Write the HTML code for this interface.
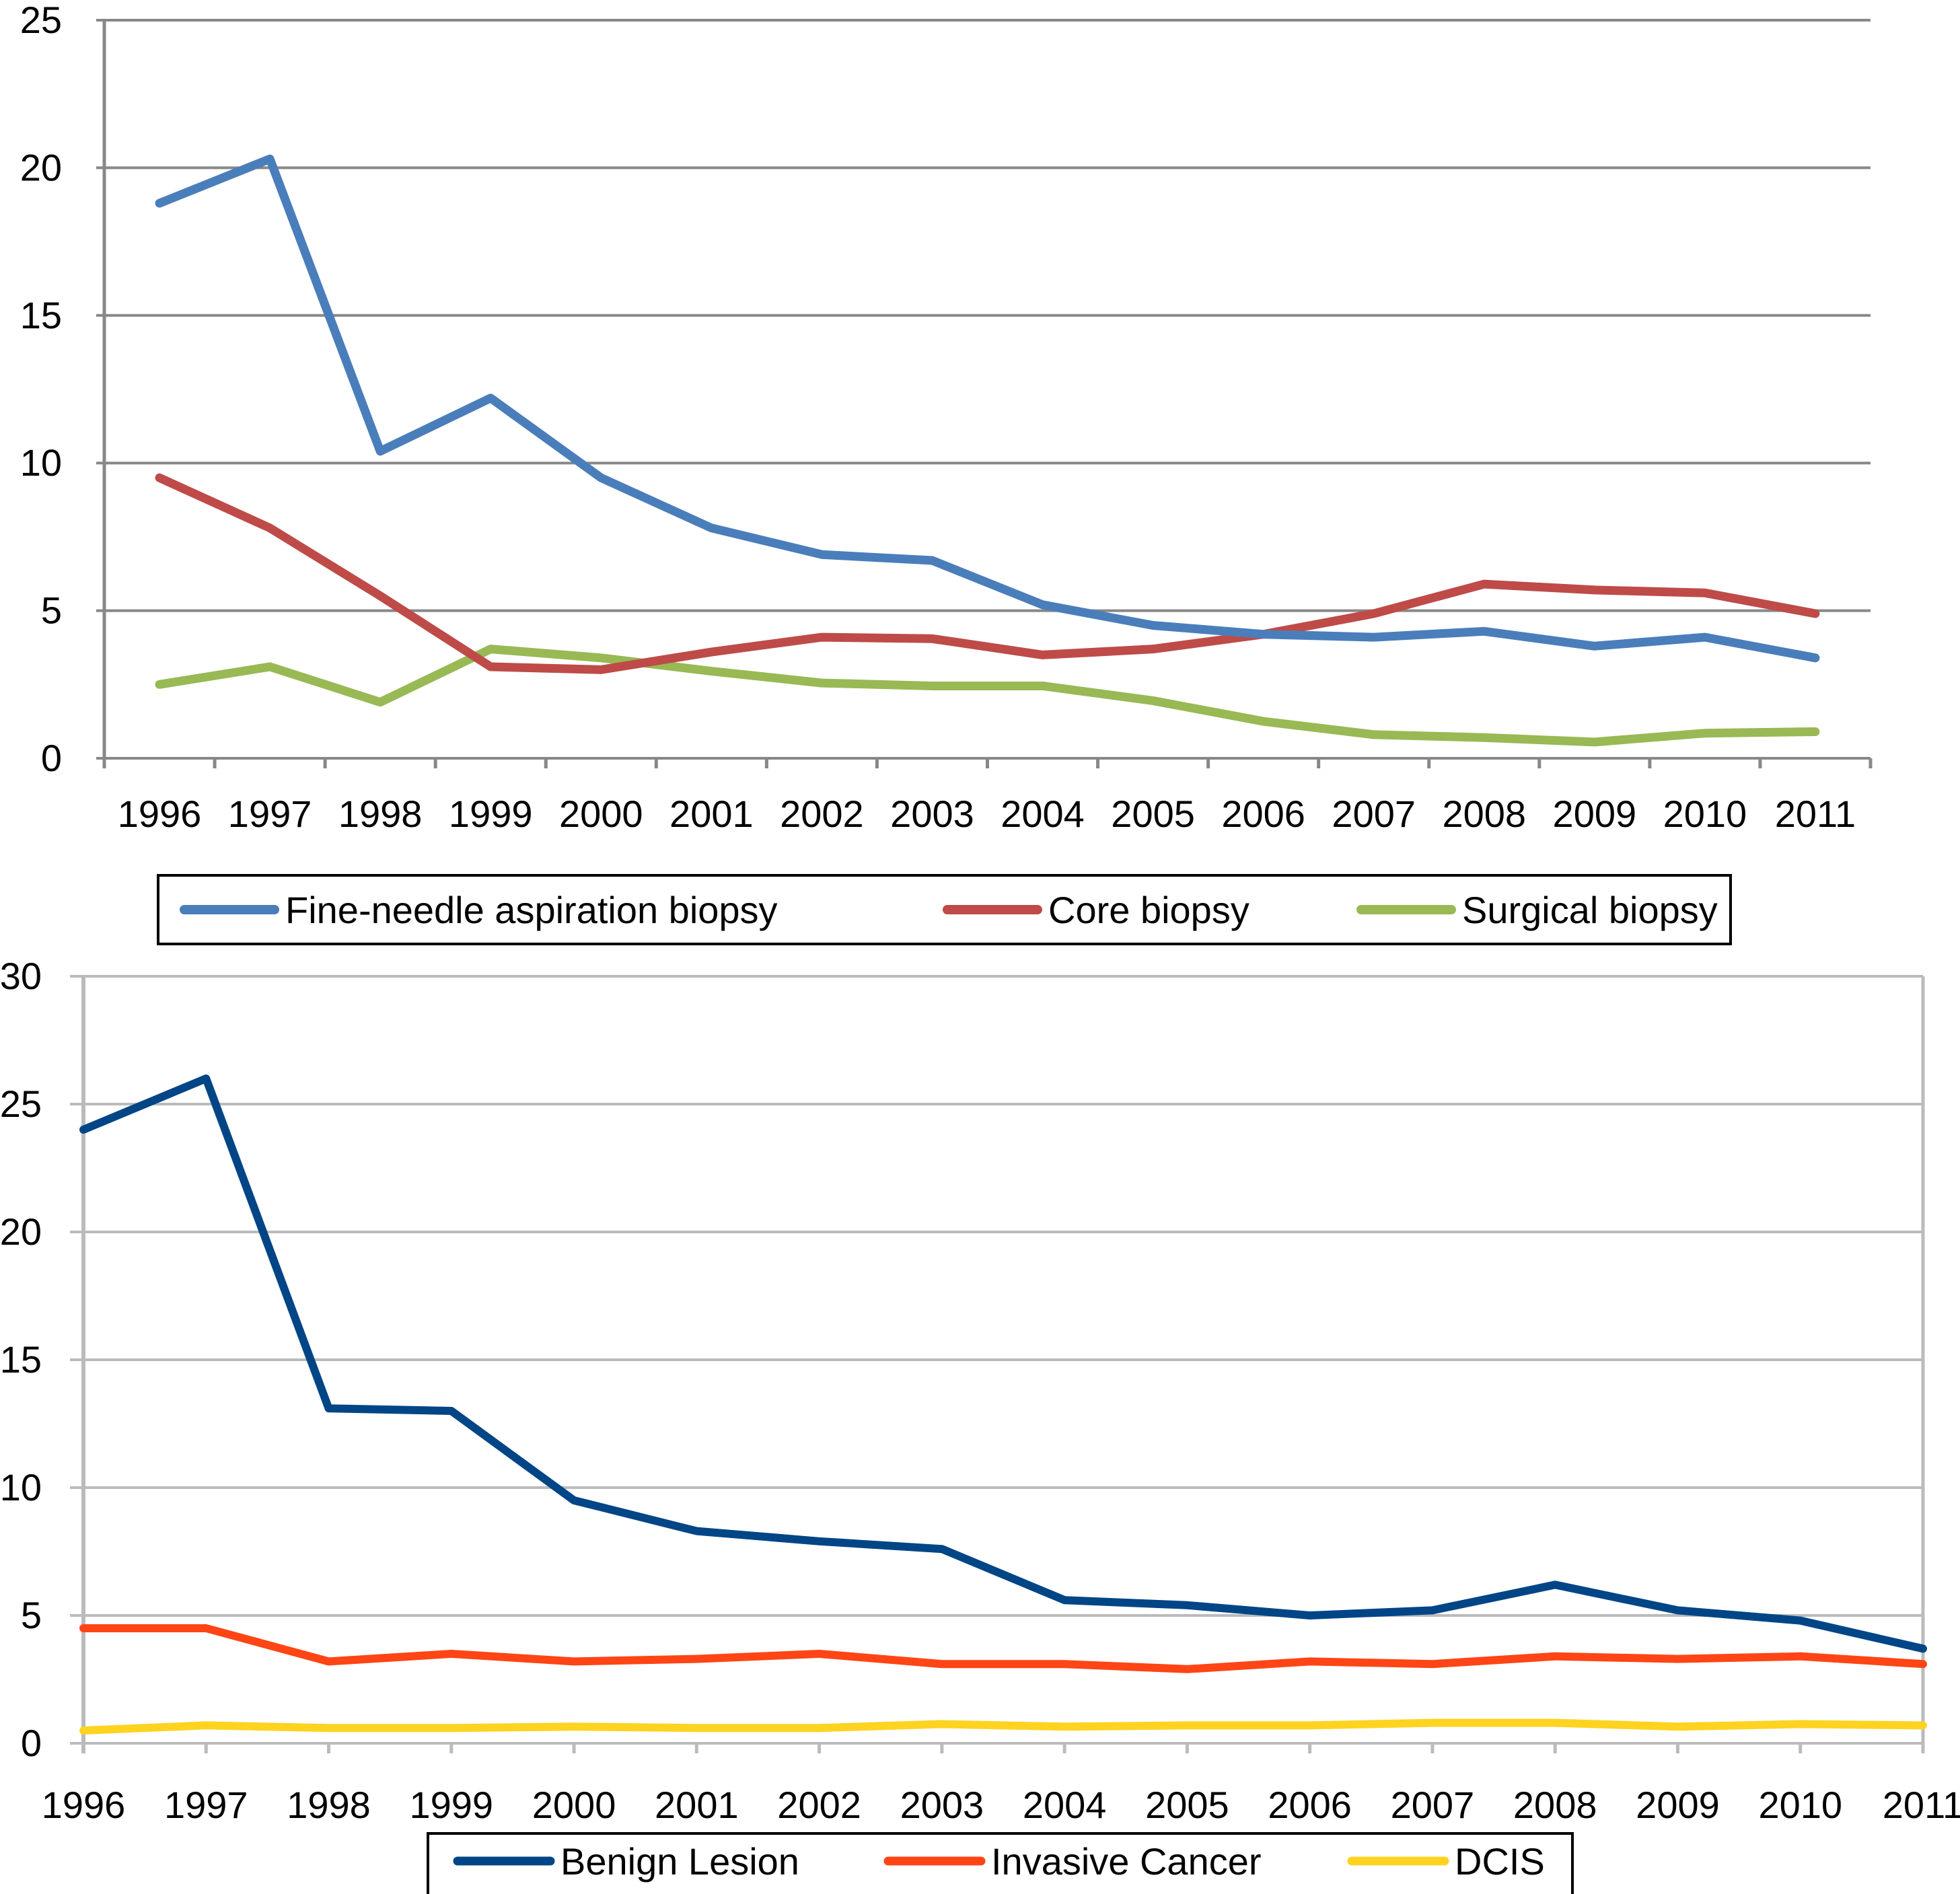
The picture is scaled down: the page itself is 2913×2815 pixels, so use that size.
<!DOCTYPE html>
<html><head><meta charset="utf-8"><style>
html,body{margin:0;padding:0;background:#fff;}
svg{display:block;font-family:"Liberation Sans",sans-serif;}
</style></head><body>
<svg id="c" width="2913" height="2815" viewBox="0 0 2913 2815"></svg>
<script>
const years = ["1996","1997","1998","1999","2000","2001","2002","2003","2004","2005","2006","2007","2008","2009","2010","2011"];
const fnaValues = [18.8,20.3,10.4,12.2,9.5,7.8,6.9,6.7,5.2,4.5,4.2,4.1,4.3,3.8,4.1,3.4];
const coreValues = [9.5,7.8,5.5,3.1,3.0,3.6,4.1,4.05,3.5,3.7,4.2,4.9,5.9,5.7,5.6,4.9];
const surgicalValues = [2.5,3.1,1.9,3.7,3.4,2.95,2.55,2.45,2.45,1.95,1.25,0.8,0.7,0.55,0.85,0.9];
const benignValues = [24,26,13.1,13,9.5,8.3,7.9,7.6,5.6,5.4,5.0,5.2,6.2,5.2,4.8,3.7];
const invasiveValues = [4.5,4.5,3.2,3.5,3.2,3.3,3.5,3.1,3.1,2.9,3.2,3.1,3.4,3.3,3.4,3.1];
const dcisValues = [0.5,0.7,0.6,0.6,0.65,0.6,0.6,0.75,0.65,0.7,0.7,0.8,0.8,0.65,0.75,0.7];
const topTicks = [0,5,10,15,20,25];
const bottomTicks = [0,5,10,15,20,25,30];

const NS="http://www.w3.org/2000/svg";
const svg=document.getElementById('c');
function mk(tag,attrs,parent,text){const e=document.createElementNS(NS,tag);for(const k in attrs)e.setAttribute(k,attrs[k]);if(text!==undefined)e.textContent=text;(parent||svg).appendChild(e);return e;}

// ---------- top chart ----------
const T={l:155,r:2780,t:30,b:1127,max:25};
const tx=i=>T.l+(T.r-T.l)/16*(i+0.5);
const ty=v=>T.b-(T.b-T.t)*v/T.max;
const gTop=mk('g',{});


topTicks.forEach(v=>{
  const l=mk('line',{x1:T.l-12,x2:T.r,y1:ty(v),y2:ty(v),stroke:'#888',"stroke-width":4},gTop);
  
  
  const t=mk('text',{x:92,y:ty(v)+19,"text-anchor":"end","font-size":56},gTop,String(v));
  
  
});
mk('line',{x1:T.l,x2:T.l,y1:T.t,y2:T.b+15,stroke:'#888',"stroke-width":5},gTop);
for(let i=0;i<=16;i++){
  const x=T.l+(T.r-T.l)/16*i;
  mk('line',{x1:x,x2:x,y1:T.b,y2:T.b+15,stroke:'#888',"stroke-width":5},gTop);
}
years.forEach((y,i)=>{
  const t=mk('text',{x:tx(i),y:1229,"text-anchor":"middle","font-size":56},gTop,y);
  
  
});
function series(vals,xf,yf,color,w,name,parent){
  const p=mk('polyline',{points:vals.map((v,i)=>xf(i)+','+yf(v)).join(' '),fill:'none',stroke:color,"stroke-width":w,"stroke-linejoin":"round","stroke-linecap":"round"},parent);
  
  
}
series(surgicalValues,tx,ty,'#98b954',13,'surgical-biopsy-line',gTop);
series(coreValues,tx,ty,'#be4b48',13,'core-biopsy-line',gTop);
series(fnaValues,tx,ty,'#4a7ebb',13,'fine-needle-line',gTop);

// top legend
const lg1=mk('g',{});


mk('rect',{x:235,y:1301,width:2337,height:102,fill:'#fff',stroke:'#000',"stroke-width":4},lg1);
[[274,'#4a7ebb','Fine-needle aspiration biopsy'],[1408,'#be4b48','Core biopsy'],[2023,'#98b954','Surgical biopsy']].forEach(([x,c,lab])=>{
  mk('line',{x1:x,x2:x+134,y1:1352,y2:1352,stroke:c,"stroke-width":14,"stroke-linecap":"round"},lg1);
  const t=mk('text',{x:x+150,y:1372,"font-size":56},lg1,lab);
  
  
});

// ---------- bottom chart ----------
const B={l:124,r:2858,t:1451,b:2591,max:30};
const bx=i=>B.l+(B.r-B.l)/15*i;
const by=v=>B.b-(B.b-B.t)*v/B.max;
const gB=mk('g',{});


bottomTicks.forEach(v=>{
  const l=mk('line',{x1:B.l-20,x2:B.r,y1:by(v),y2:by(v),stroke:'#bbb',"stroke-width":4},gB);
  
  
  const t=mk('text',{x:62,y:by(v)+19,"text-anchor":"end","font-size":56},gB,String(v));
  
  
});
mk('line',{x1:B.l,x2:B.l,y1:B.t,y2:B.b+15,stroke:'#bbb',"stroke-width":6},gB);
mk('line',{x1:B.r,x2:B.r,y1:B.t,y2:B.b+15,stroke:'#bbb',"stroke-width":5},gB);
years.forEach((y,i)=>{
  mk('line',{x1:bx(i),x2:bx(i),y1:B.b,y2:B.b+15,stroke:'#bbb',"stroke-width":5},gB);
  const t=mk('text',{x:bx(i),y:2702,"text-anchor":"middle","font-size":56},gB,y);
  
  
});
series(dcisValues,bx,by,'#ffd320',12,'dcis-line',gB);
series(invasiveValues,bx,by,'#ff4515',12,'invasive-cancer-line',gB);
series(benignValues,bx,by,'#004586',12,'benign-lesion-line',gB);

const lg2=mk('g',{});


mk('rect',{x:636,y:2725,width:1701,height:95,fill:'#fff',stroke:'#000',"stroke-width":4},lg2);
[[680,'#004586','Benign Lesion'],[1320,'#ff4515','Invasive Cancer'],[2009,'#ffd320','DCIS']].forEach(([x,c,lab])=>{
  mk('line',{x1:x,x2:x+138,y1:2766,y2:2766,stroke:c,"stroke-width":13,"stroke-linecap":"round"},lg2);
  const t=mk('text',{x:x+153,y:2786,"font-size":56},lg2,lab);
  
  
});
</script>
</body></html>
